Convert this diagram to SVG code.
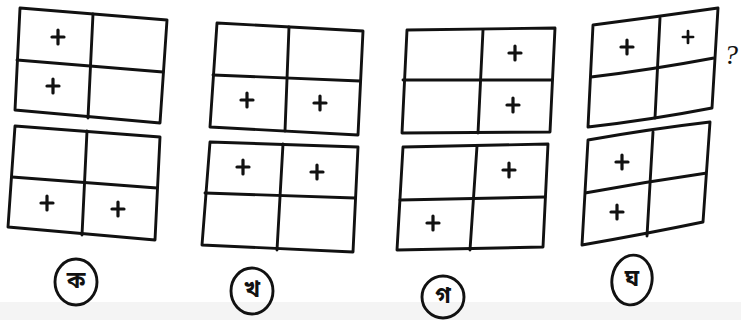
<svg xmlns="http://www.w3.org/2000/svg" width="741" height="320" viewBox="0 0 741 320">
<style>
.bx{fill:none;stroke:#111;stroke-width:2.9;stroke-linejoin:round;stroke-linecap:round}
.pl{stroke:#111;stroke-width:3.2;stroke-linecap:round}
.lc{fill:none;stroke:#111;stroke-width:2.9}
.lt{font-family:"Noto Sans Bengali","Noto Sans","Lohit Bengali","Noto Serif Bengali",sans-serif;font-size:23px;font-weight:bold;fill:#111;text-anchor:middle;dominant-baseline:central}
.q{font-family:"Liberation Serif",serif;font-style:italic;font-size:28px;fill:#111;text-anchor:middle}
</style>
<defs>
<g id="plus"><line class="pl" x1="-6" y1="0" x2="6" y2="0"/><line class="pl" x1="0" y1="-7" x2="0" y2="7"/></g>
</defs>
<rect x="0" y="0" width="741" height="320" fill="#fff"/>
<rect x="0" y="302" width="741" height="18" fill="#f4f4f4"/>

<g id="ka-top">
<polygon class="bx" points="20,8 167,20 160,123 15,110"/>
<line class="bx" x1="93" y1="14" x2="88" y2="118"/>
<line class="bx" x1="17" y1="60" x2="163" y2="72"/>
<use href="#plus" x="58" y="37"/><use href="#plus" x="53" y="86"/>
</g>
<g id="ka-bottom">
<polygon class="bx" points="15,126 160,137 155,240 8,227"/>
<line class="bx" x1="87" y1="131" x2="82" y2="235"/>
<line class="bx" x1="12" y1="177" x2="157" y2="188"/>
<use href="#plus" x="47" y="203"/><use href="#plus" x="118" y="209"/>
</g>
<g id="kha-top">
<polygon class="bx" points="217,23 363,31 358,135 210,127"/>
<line class="bx" x1="289" y1="27" x2="285" y2="131"/>
<line class="bx" x1="213" y1="75" x2="360" y2="81"/>
<use href="#plus" x="247" y="100"/><use href="#plus" x="320" y="103"/>
</g>
<g id="kha-bottom">
<polygon class="bx" points="210,142 358,147 353,252 202,245"/>
<line class="bx" x1="283" y1="144" x2="277" y2="250"/>
<line class="bx" x1="205" y1="193" x2="355" y2="198"/>
<use href="#plus" x="243" y="167"/><use href="#plus" x="317" y="172"/>
</g>
<g id="ga-top">
<polygon class="bx" points="407,30 555,28 550,132 402,133"/>
<line class="bx" x1="483" y1="30" x2="478" y2="133"/>
<line class="bx" x1="403" y1="80" x2="552" y2="80"/>
<use href="#plus" x="515" y="53"/><use href="#plus" x="513" y="105"/>
</g>
<g id="ga-bottom">
<polygon class="bx" points="403,147 548,144 543,247 397,250"/>
<line class="bx" x1="477" y1="146" x2="470" y2="250"/>
<line class="bx" x1="400" y1="200" x2="545" y2="197"/>
<use href="#plus" x="509" y="170"/><use href="#plus" x="433" y="223"/>
</g>
<g id="gha-top">
<path class="bx" d="M593,25 Q655,17 718,8 L712,108 Q650,120 588,127 Z"/>
<line class="bx" x1="660" y1="18" x2="655" y2="118"/>
<path class="lc" d="M591,77 Q650,70 714,58"/>
<use href="#plus" x="627" y="47"/><use href="#plus" x="688" y="37" transform="translate(688 37) scale(0.85) translate(-688 -37)"/>
<text class="q" x="731" y="64">?</text>
</g>
<g id="gha-bottom">
<path class="bx" d="M588,140 Q650,129 710,122 L703,222 Q645,234 582,245 Z"/>
<line class="bx" x1="653" y1="132" x2="647" y2="236"/>
<path class="lc" d="M585,193 Q645,182 707,173"/>
<use href="#plus" x="622" y="162"/><use href="#plus" x="617" y="212"/>
</g>

<g id="label-ka"><ellipse class="lc" cx="76" cy="282" rx="21" ry="23"/><text class="lt" x="76" y="282">ক</text></g>
<g id="label-kha"><ellipse class="lc" cx="252" cy="291" rx="21" ry="23"/><text class="lt" x="252" y="291">খ</text></g>
<g id="label-ga"><ellipse class="lc" cx="443" cy="297" rx="21" ry="21"/><text class="lt" x="443" y="297">গ</text></g>
<g id="label-gha"><ellipse class="lc" cx="632" cy="280" rx="20" ry="25" transform="rotate(10 632 280)"/><text class="lt" x="632" y="280">ঘ</text></g>
<g id="connectors"/>
</svg>
